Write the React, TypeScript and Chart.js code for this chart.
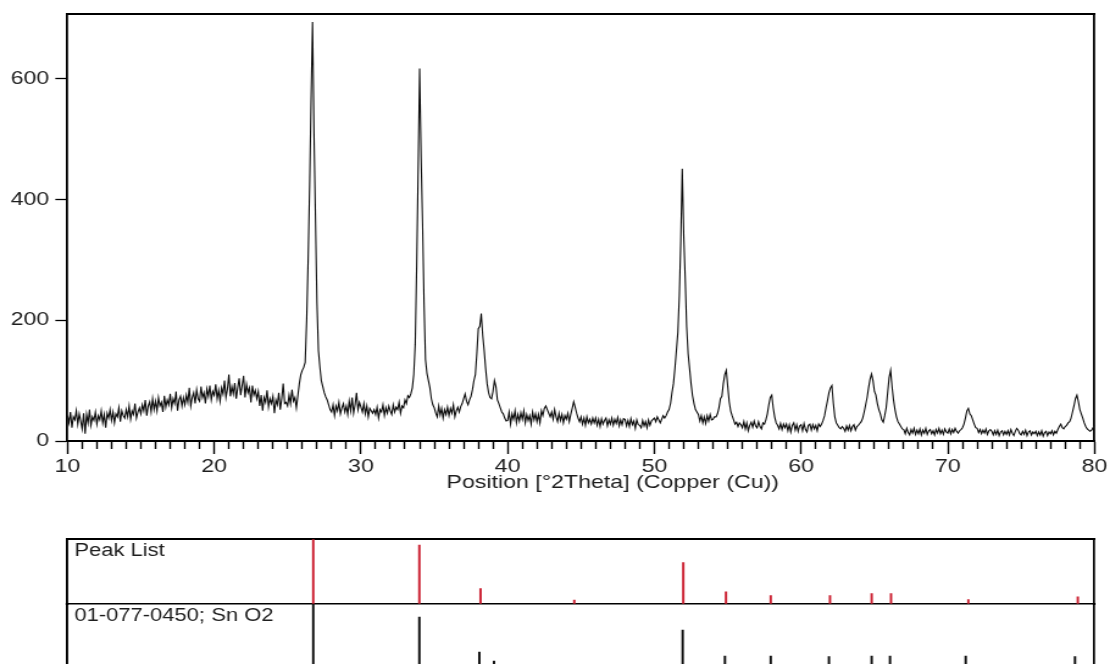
import React, { useEffect, useRef } from 'react';
import { Chart, registerables } from 'chart.js';

Chart.register(...registerables);

// ---------------- data ----------------
const SCAN_START = 10; // °2Theta
const SCAN_STEP = 0.1; // °2Theta
// Counts, one value per 0.1° from 10.0 to 80.0
const INTENSITY = [
  42, 30, 48, 22, 40, 35, 50, 28, 45, 33,
  20, 46, 12, 44, 30, 52, 26, 40, 34, 48,
  28, 42, 35, 50, 30, 44, 22, 46, 38, 52,
  34, 48, 30, 45, 40, 55, 32, 50, 42, 38,
  52, 40, 58, 36, 50, 44, 62, 38, 48, 55,
  45, 60, 50, 68, 42, 58, 65, 48, 70, 52,
  66, 50, 72, 58, 64, 48, 75, 56, 68, 60,
  78, 55, 70, 62, 82, 50, 68, 74, 58, 72,
  60, 76, 64, 88, 58, 72, 80, 62, 85, 70,
  66, 90, 72, 80, 62, 86, 74, 92, 68, 82,
  76, 94, 70, 84, 66, 88, 78, 100, 72, 86,
  110, 74, 90, 78, 96, 70, 88, 104, 76, 92,
  108, 72, 94, 80, 88, 64, 92, 76, 84, 70,
  82, 58, 76, 50, 72, 64, 84, 56, 70, 62,
  74, 46, 68, 60, 80, 52, 70, 95, 62, 64,
  58, 76, 62, 85, 66, 72, 55, 75, 95, 110,
  117, 122, 130, 200, 300, 420, 565, 694, 510, 370,
  230, 150, 123, 100, 90, 80, 73, 68, 60, 52,
  48, 60, 42, 58, 50, 64, 45, 55, 62, 48,
  58, 44, 66, 50, 72, 46, 60, 80, 52, 64,
  56, 48, 62, 45, 58, 40, 54, 50, 46, 52,
  44, 56, 38, 52, 48, 60, 42, 55, 46, 58,
  50, 44, 60, 48, 56, 52, 64, 46, 58, 55,
  68, 62, 75, 72, 78, 88, 110, 160, 290, 450,
  617, 470, 360, 230, 135, 112, 100, 88, 70, 60,
  55, 46, 40, 58, 43, 54, 38, 52, 44, 56,
  42, 54, 46, 60, 40, 50, 56, 48, 57, 62,
  70, 78, 66, 60, 68, 74, 85, 100, 110, 145,
  186, 190, 211, 175, 150, 120, 95, 80, 72, 70,
  82, 100, 90, 68, 62, 55, 48, 45, 38, 33,
  34, 48, 28, 45, 36, 50, 30, 44, 33, 47,
  36, 50, 30, 44, 34, 42, 28, 48, 35, 45,
  32, 44, 30, 50, 42, 54, 58, 52, 46, 40,
  48, 36, 52, 40, 32, 46, 34, 44, 30, 42,
  36, 46, 32, 44, 54, 65, 56, 46, 38, 32,
  40, 28, 38, 26, 40, 30, 36, 28, 38, 30,
  38, 26, 36, 24, 37, 28, 34, 38, 25, 35,
  28, 38, 26, 36, 29, 39, 25, 35, 27, 37,
  36, 25, 34, 24, 37, 27, 33, 21, 35, 27,
  26, 22, 34, 25, 32, 22, 35, 26, 33, 36,
  38, 32, 40, 35, 30, 36, 42, 38, 42, 48,
  52, 62, 80, 95, 120, 150, 180, 240, 330, 451,
  340, 270, 190, 145, 120, 95, 75, 62, 52, 48,
  44, 33, 42, 30, 40, 29, 42, 33, 44, 35,
  36, 40, 40, 45, 55, 70, 74, 95, 110, 117,
  90, 65, 50, 42, 35, 28, 31, 24, 30, 27,
  22, 32, 20, 30, 17, 26, 31, 23, 33, 25,
  22, 32, 24, 20, 30, 28, 35, 45, 60, 72,
  76, 55, 40, 30, 26, 20, 29, 19, 28, 22,
  28, 17, 27, 15, 26, 30, 18, 27, 16, 25,
  27, 17, 29, 19, 15, 26, 28, 18, 27, 20,
  26, 17, 28, 24, 28, 34, 42, 55, 67, 80,
  88, 92, 62, 40, 30, 26, 22, 20, 24, 21,
  16, 25, 18, 26, 17, 24, 27, 18, 24, 26,
  29, 32, 38, 48, 60, 72, 88, 102, 111, 100,
  82, 76, 62, 52, 45, 35, 31, 42, 55, 80,
  105, 117, 90, 68, 52, 40, 32, 28, 24, 20,
  19, 12, 21, 14, 10, 19, 13, 21, 11, 18,
  12, 20, 10, 18, 13, 21, 11, 17, 19, 12,
  17, 10, 19, 13, 21, 12, 18, 11, 20, 15,
  13, 20, 12, 19, 14, 21, 16, 13, 17, 19,
  22, 28, 38, 50, 54, 45, 42, 35, 28, 22,
  21, 14, 19, 12, 18, 13, 20, 11, 17, 19,
  16, 10, 17, 11, 18, 9, 15, 17, 10, 16,
  11, 17, 10, 19, 13, 9, 16, 21, 18, 12,
  10, 16, 11, 18, 9, 15, 17, 10, 15, 12,
  16, 9, 15, 10, 17, 8, 14, 16, 9, 15,
  12, 17, 10, 16, 13, 19, 24, 28, 22, 20,
  24, 26, 30, 32, 38, 48, 58, 70, 76, 65,
  52, 45, 38, 30, 24, 20, 18, 16, 18, 22,
  26,
];

const X_MIN = 10;
const X_MAX = 80;
const X_MINOR_STEP = 1;
const X_MAJOR_TICKS = [10, 20, 30, 40, 50, 60, 70, 80];
const Y_MAX = 708;
const Y_TICKS = [0, 200, 400, 600];
const X_TITLE = 'Position [°2Theta] (Copper (Cu))';

const PEAK_LIST_LABEL = 'Peak List';
const PEAK_POS = [26.75, 33.98, 38.15, 44.54, 51.97, 54.88, 57.93, 61.97, 64.81, 66.13, 71.4, 78.86];
const PEAK_REL = [100, 91, 24, 6, 64, 19, 13, 13, 16, 16, 7, 11];

const REF_LABEL = '01-077-0450; Sn O2';
const REF_POS = [26.75, 33.98, 38.07, 39.07, 51.93, 54.81, 57.93, 61.9, 64.81, 66.06, 71.22, 78.67];
const REF_REL = [100, 80, 26, 12, 60, 20, 20, 19, 20, 20, 20, 19];

// ---------------- layout ----------------
const OUT_W = 1110;
const LOG_W = 910; // canvas drawn at this width and stretched horizontally to OUT_W
const AREA_LEFT = 55.34;
const AREA_RIGHT_PAD = 12.7;
const FONT = '"Liberation Sans", Arial, Helvetica, sans-serif';
const TEXT_COLOR = '#1e1e1e';
const RED = '#cc2233';

const borderAxis = (position: string, min: number, max: number, width: number) => ({
  type: 'linear',
  position,
  min,
  max,
  display: true,
  ticks: { display: false },
  grid: { display: true, drawOnChartArea: false, drawTicks: false },
  border: { display: width > 0, color: '#000', width: Math.max(width, 0.01) },
  afterFit: (s: any) => {
    if (s.isHorizontal()) s.height = 0;
    else s.width = 0;
    s.paddingLeft = 0; s.paddingRight = 0; s.paddingTop = 0; s.paddingBottom = 0;
  },
});

const xTitlePlugin = {
  id: 'xTitle',
  afterDraw(chart: any) {
    const { ctx, chartArea } = chart;
    ctx.save();
    ctx.font = `19px ${FONT}`;
    ctx.fillStyle = TEXT_COLOR;
    ctx.textAlign = 'center';
    ctx.textBaseline = 'alphabetic';
    ctx.fillText(X_TITLE, (chartArea.left + chartArea.right) / 2 + 26, chartArea.bottom + 47);
    ctx.restore();
  },
};

const rowLabelPlugin = (text: string) => ({
  id: 'rowLabel',
  afterDraw(chart: any) {
    const { ctx, chartArea } = chart;
    ctx.save();
    ctx.font = `18px ${FONT}`;
    ctx.fillStyle = TEXT_COLOR;
    ctx.textAlign = 'left';
    ctx.textBaseline = 'alphabetic';
    ctx.fillText(text, chartArea.left + 5.7, chartArea.top + 16.5);
    ctx.restore();
  },
});

function mainConfig(): any {
  const points = INTENSITY.map((y, i) => ({ x: SCAN_START + i * SCAN_STEP, y }));
  return {
    type: 'line',
    data: {
      datasets: [
        {
          data: points,
          borderColor: '#0d0d0d',
          borderWidth: 1.1,
          pointRadius: 0,
          tension: 0,
          fill: false,
        },
      ],
    },
    options: {
      animation: false,
      responsive: false,
      devicePixelRatio: 1,
      events: [],
      layout: { padding: { top: 13.5, right: AREA_RIGHT_PAD, left: 0, bottom: 0 } },
      plugins: { legend: { display: false }, tooltip: { enabled: false }, title: { display: false } },
      scales: {
        x: {
          type: 'linear',
          position: 'bottom',
          min: X_MIN,
          max: X_MAX,
          afterBuildTicks: (s: any) => {
            const t = [];
            for (let v = X_MIN; v <= X_MAX; v += X_MINOR_STEP) t.push({ value: v });
            s.ticks = t;
          },
          afterFit: (s: any) => {
            s.height = 59;
            s.paddingLeft = 0;
            s.paddingRight = 0;
          },
          ticks: {
            autoSkip: false,
            maxRotation: 0,
            minRotation: 0,
            padding: 1,
            color: TEXT_COLOR,
            font: { family: FONT, size: 19 },
            callback: (v: any) => (X_MAJOR_TICKS.includes(Number(v)) ? String(v) : ''),
          },
          grid: {
            drawOnChartArea: false,
            drawTicks: true,
            tickLength: 13,
            tickColor: '#000',
            tickWidth: 1.4,
            tickBorderDash: (ctx: any) =>
              ctx && ctx.tick && !X_MAJOR_TICKS.includes(ctx.tick.value) ? [7, 40] : [],
          },
          border: { display: true, color: '#000', width: 2 },
        },
        y: {
          type: 'linear',
          position: 'left',
          min: 0,
          max: Y_MAX,
          afterBuildTicks: (s: any) => {
            s.ticks = Y_TICKS.map((value) => ({ value }));
          },
          afterFit: (s: any) => {
            s.width = AREA_LEFT;
            s.paddingTop = 0;
            s.paddingBottom = 0;
          },
          ticks: {
            padding: 5,
            color: TEXT_COLOR,
            font: { family: FONT, size: 19 },
          },
          grid: {
            drawOnChartArea: false,
            drawTicks: true,
            tickLength: 10,
            tickColor: '#000',
            tickWidth: 1.3,
          },
          border: { display: true, color: '#000', width: 1.8 },
        },
        x2: borderAxis('top', X_MIN, X_MAX, 2),
        y2: borderAxis('right', 0, Y_MAX, 1.8),
      },
    },
    plugins: [xTitlePlugin],
  };
}

function rowConfig(
  pos: number[],
  rel: number[],
  color: string,
  label: string,
  padTop: number,
  padBottom: number,
  topBorder: number,
  bottomBorder: number
): any {
  return {
    type: 'bar',
    data: {
      datasets: [
        {
          data: pos.map((x, i) => ({ x, y: rel[i] })),
          backgroundColor: color,
          borderWidth: 0,
          barThickness: 1.3,
          grouped: false,
        },
      ],
    },
    options: {
      animation: false,
      responsive: false,
      devicePixelRatio: 1,
      events: [],
      layout: { padding: { top: padTop, bottom: padBottom, left: AREA_LEFT, right: AREA_RIGHT_PAD } },
      plugins: { legend: { display: false }, tooltip: { enabled: false }, title: { display: false } },
      scales: {
        x: { ...borderAxis('bottom', X_MIN, X_MAX, bottomBorder), offset: false, grid: { display: true, drawOnChartArea: false, drawTicks: false, offset: false } },
        y: { ...borderAxis('left', 0, 100, 1.9) },
        x2: borderAxis('top', X_MIN, X_MAX, topBorder),
        y2: borderAxis('right', 0, 100, 1.7),
      },
    },
    plugins: [rowLabelPlugin(label)],
  };
}

export default function App() {
  const mainRef = useRef<HTMLCanvasElement>(null);
  const peakRef = useRef<HTMLCanvasElement>(null);
  const refRef = useRef<HTMLCanvasElement>(null);

  useEffect(() => {
    const charts: Chart[] = [];
    if (mainRef.current) charts.push(new Chart(mainRef.current, mainConfig()));
    if (peakRef.current)
      charts.push(new Chart(peakRef.current, rowConfig(PEAK_POS, PEAK_REL, RED, PEAK_LIST_LABEL, 19.3, 6, 2, 1.5)));
    if (refRef.current)
      charts.push(new Chart(refRef.current, rowConfig(REF_POS, REF_REL, '#111', REF_LABEL, 4, 31, 0, 2)));
    return () => charts.forEach((c) => c.destroy());
  }, []);

  const canvasStyle = (top: number, h: number): React.CSSProperties => ({
    position: 'absolute',
    left: 0,
    top,
    width: `${OUT_W}px`,
    height: `${h}px`,
    display: 'block',
  });

  return (
    <div
      style={{
        position: 'fixed',
        left: 0,
        top: 0,
        width: OUT_W,
        height: 664,
        overflow: 'hidden',
        background: '#fff',
      }}
    >
      <canvas ref={mainRef} width={LOG_W} height={500} style={canvasStyle(0, 500)} />
      <canvas ref={peakRef} width={LOG_W} height={90} style={canvasStyle(520, 90)} />
      <canvas ref={refRef} width={LOG_W} height={100} style={canvasStyle(600, 100)} />
    </div>
  );
}
